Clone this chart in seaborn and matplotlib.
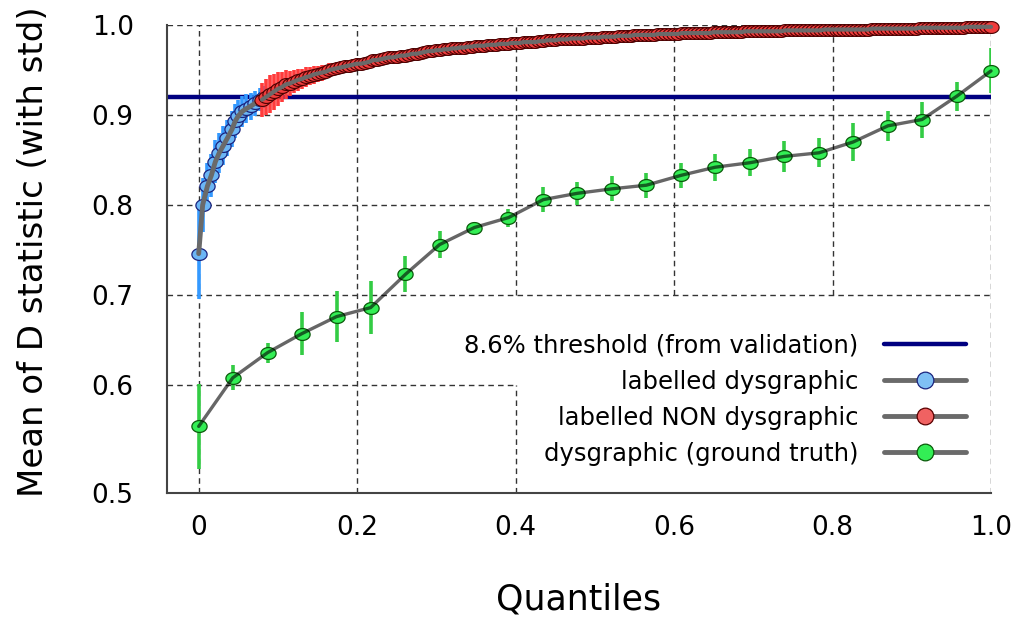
import numpy as np
import pandas as pd
import matplotlib
matplotlib.use("Agg")
import matplotlib.pyplot as plt
import seaborn as sns
from matplotlib.lines import Line2D
from matplotlib.path import Path

# ---------------- data ----------------
thr_value = 0.92
thr_label = "8.6% threshold (from validation)"

blue_label = "labelled dysgraphic"
blue_q = [0.000, 0.005, 0.011, 0.016, 0.021, 0.026, 0.031, 0.036, 0.042,
          0.046, 0.050, 0.055, 0.060, 0.066, 0.071, 0.077, 0.083]
blue_mean = [0.746, 0.800, 0.821, 0.833, 0.848, 0.858, 0.866, 0.874, 0.884,
             0.893, 0.899, 0.904, 0.907, 0.910, 0.913, 0.917, 0.920]
blue_std = [0.050, 0.030, 0.026, 0.024, 0.024, 0.022, 0.022, 0.020, 0.020,
            0.019, 0.018, 0.017, 0.016, 0.015, 0.014, 0.013, 0.012]

red_label = "labelled NON dysgraphic"
# quantile grid 0.080 .. 1.000, step 0.005
red_q = [round(0.08 + 0.005 * i, 3) for i in range(185)]
red_mean = [
    0.917, 0.920, 0.923, 0.926, 0.929, 0.931, 0.934, 0.935, 0.937, 0.939,
    0.940, 0.942, 0.943, 0.945, 0.946, 0.947, 0.948, 0.950, 0.951, 0.952,
    0.953, 0.954, 0.955, 0.956, 0.957, 0.957, 0.958, 0.959, 0.961, 0.961,
    0.962, 0.963, 0.964, 0.964, 0.965, 0.966, 0.966, 0.967, 0.968, 0.968,
    0.969, 0.970, 0.971, 0.971, 0.972, 0.972, 0.973, 0.973, 0.974, 0.974,
    0.975, 0.975, 0.976, 0.976, 0.977, 0.977, 0.977, 0.978, 0.978, 0.978,
    0.979, 0.979, 0.979, 0.980,
    0.980, 0.980, 0.981, 0.981, 0.981, 0.981, 0.982, 0.982, 0.983, 0.983,
    0.983, 0.984, 0.984, 0.984, 0.985, 0.985, 0.985, 0.985, 0.986, 0.986,
    0.986, 0.986, 0.987, 0.987, 0.987, 0.987, 0.988, 0.988, 0.988, 0.988,
    0.989, 0.989, 0.989, 0.989, 0.989, 0.989, 0.990, 0.990, 0.990, 0.990,
    0.990, 0.990, 0.991, 0.991, 0.991, 0.991, 0.991, 0.991, 0.991, 0.991,
    0.992, 0.992, 0.992, 0.992, 0.992, 0.992, 0.992, 0.992, 0.993, 0.993,
    0.993, 0.993, 0.993, 0.993, 0.993, 0.993, 0.993, 0.993, 0.994, 0.994,
    0.994, 0.994, 0.994, 0.994, 0.994, 0.994, 0.994, 0.994, 0.995, 0.995,
    0.995, 0.995, 0.995, 0.995, 0.995, 0.995, 0.995, 0.995, 0.995, 0.995,
    0.996, 0.996, 0.996, 0.996, 0.996, 0.996, 0.996, 0.996, 0.996, 0.996,
    0.996, 0.996, 0.997, 0.997, 0.997, 0.997, 0.997, 0.997, 0.997, 0.997,
    0.997, 0.997, 0.997, 0.997, 0.998, 0.998, 0.998, 0.998, 0.998, 0.998,
    0.998]
red_std = [
    0.019, 0.020, 0.021, 0.020, 0.019, 0.017, 0.016, 0.014, 0.013, 0.012,
    0.011, 0.011, 0.010, 0.010, 0.009, 0.009, 0.008, 0.008, 0.007, 0.007,
    0.007, 0.006, 0.006, 0.006, 0.006, 0.005, 0.005, 0.005, 0.005, 0.005,
    0.005, 0.005, 0.005, 0.004, 0.004, 0.004, 0.004, 0.004, 0.004, 0.004,
    0.004, 0.004, 0.004, 0.003, 0.003, 0.003, 0.003, 0.003, 0.003, 0.003,
    0.003, 0.003, 0.003, 0.003, 0.003, 0.003, 0.003, 0.003, 0.003, 0.003,
    0.003, 0.003, 0.003, 0.003,
    0.002, 0.002, 0.002, 0.002, 0.002, 0.002, 0.002, 0.002, 0.002, 0.002,
    0.002, 0.002, 0.002, 0.002, 0.002, 0.002, 0.002, 0.002, 0.002, 0.002,
    0.002, 0.002, 0.002, 0.002, 0.002, 0.002, 0.002, 0.002, 0.002, 0.002,
    0.002, 0.002, 0.002, 0.002, 0.002, 0.002, 0.002, 0.002, 0.002, 0.002,
    0.002, 0.002, 0.002, 0.002, 0.002, 0.002, 0.002, 0.002, 0.002, 0.002,
    0.002, 0.002, 0.002, 0.002, 0.002, 0.002, 0.002, 0.002, 0.002, 0.002,
    0.002, 0.002, 0.002, 0.002, 0.002, 0.002, 0.002, 0.002, 0.002, 0.002,
    0.002, 0.002, 0.002, 0.002, 0.002, 0.002, 0.002, 0.002, 0.002, 0.002,
    0.002, 0.002, 0.002, 0.002, 0.002, 0.002, 0.002, 0.002, 0.002, 0.002,
    0.002, 0.002, 0.002, 0.002, 0.002, 0.002, 0.002, 0.002, 0.002, 0.002,
    0.002, 0.002, 0.002, 0.002, 0.002, 0.002, 0.002, 0.002, 0.002, 0.002,
    0.002, 0.002, 0.002, 0.002, 0.002, 0.002, 0.002, 0.002, 0.002, 0.002,
    0.002]

green_label = "dysgraphic (ground truth)"
green_q = [0.000, 0.043, 0.087, 0.130, 0.174, 0.217, 0.261, 0.304,
           0.348, 0.391, 0.435, 0.478, 0.522, 0.565, 0.609, 0.652,
           0.696, 0.739, 0.783, 0.826, 0.870, 0.913, 0.957, 1.000]
green_mean = [0.554, 0.608, 0.636, 0.657, 0.676, 0.686, 0.723, 0.756,
              0.775, 0.786, 0.806, 0.813, 0.818, 0.822, 0.833, 0.842,
              0.847, 0.854, 0.858, 0.870, 0.888, 0.895, 0.921, 0.949]
green_std = [0.047, 0.014, 0.011, 0.024, 0.028, 0.029, 0.020, 0.015,
             0.003, 0.010, 0.014, 0.013, 0.014, 0.014, 0.014, 0.015,
             0.015, 0.017, 0.016, 0.021, 0.017, 0.020, 0.016, 0.025]

x_ticks = [0, 0.2, 0.4, 0.6, 0.8, 1.0]
x_tick_labels = ["0", "0.2", "0.4", "0.6", "0.8", "1.0"]
y_ticks = [0.48, 0.6, 0.7, 0.8, 0.9, 1.0]
y_tick_labels = ["0.5", "0.6", "0.7", "0.8", "0.9", "1.0"]
x_title = "Quantiles"
y_title = "Mean of D statistic (with std)"

# ---------------- style ----------------
sns.set_theme(style="white")
plt.rcParams["font.family"] = ["DejaVu Sans"]
plt.rcParams.update({"text.color": "black", "axes.labelcolor": "black",
                     "xtick.color": "black", "ytick.color": "black"})

XMIN, XMAX, YMIN, YMAX = -0.04, 1.0, 0.48, 1.0

fig = plt.figure(figsize=(10.14, 6.19), dpi=100)
ax = fig.add_axes([167 / 1014, 1 - 493 / 619, 824 / 1014, 468 / 619])
ax.set_xlim(XMIN, XMAX)
ax.set_ylim(YMIN, YMAX)

def xf(v):
    return (v - XMIN) / (XMAX - XMIN)

def yf(v):
    return (v - YMIN) / (YMAX - YMIN)

grid_kw = dict(color="#333333", lw=1.0, ls=(0, (4, 3)), zorder=0.5)
for yv in [0.7, 0.8, 0.9, 1.0]:
    ax.axhline(yv, **grid_kw)
ax.axhline(0.6, xmax=xf(0.4), **grid_kw)
for xv in [0.0, 0.2, 1.0]:
    ax.axvline(xv, **grid_kw)
ax.axvline(0.4, ymax=yf(0.6), **grid_kw)
for xv in [0.4, 0.6, 0.8]:
    ax.axvline(xv, ymin=yf(0.7), **grid_kw)

# threshold
ax.axhline(thr_value, color="#000080", lw=3.2, zorder=1)

t = np.linspace(0, 2 * np.pi, 64)
ellipse = Path(np.column_stack([np.cos(t), 0.78 * np.sin(t)]), closed=True)

series = [
    (blue_q, blue_mean, blue_std, "#3399ff", "#6cb6f5", "#1a237e", "#6a6a6a", 3.5, 1.0, 0.9),
    (red_q, red_mean, red_std, "#ff3b3b", "#f03c3c", "#4a0000", "#6a6a6a", 3.0, 1.0, 0.8),
    (green_q, green_mean, green_std, "#33cc44", "#33ee55", "#0a5a0a", "#000000", 2.4, 0.6, 0.9),
]
z = 2
for q, m, s, ecol, face, edge, lcol, lw, la, mew in series:
    ax.errorbar(q, m, yerr=s, fmt="none", ecolor=ecol, elinewidth=2.6,
                capsize=0, zorder=z)
    df = pd.DataFrame({"q": q, "m": m})
    sns.scatterplot(data=df, x="q", y="m", marker=ellipse, s=120,
                    color=face, edgecolor=edge, linewidth=mew, ax=ax,
                    zorder=z + 0.1, legend=False, clip_on=False)
    sns.lineplot(data=df, x="q", y="m", color=lcol, alpha=la, lw=lw,
                 estimator=None, sort=False, ax=ax, zorder=z + 0.2,
                 legend=False, clip_on=False)
    z += 1

for sp in ["top", "right"]:
    ax.spines[sp].set_visible(False)
for sp in ["left", "bottom"]:
    ax.spines[sp].set_color("#444444")
    ax.spines[sp].set_linewidth(1.5)
    ax.spines[sp].set_zorder(6)

ax.set_xticks(x_ticks)
ax.set_xticklabels(x_tick_labels)
ax.set_yticks(y_ticks)
ax.set_yticklabels(y_tick_labels)
ax.tick_params(axis="both", length=0, labelsize=19)
ax.tick_params(axis="y", pad=24)
ax.tick_params(axis="x", pad=16)
ax.set_xlabel(x_title, fontsize=25, labelpad=30)
ax.set_ylabel(y_title, fontsize=24.5)
ax.yaxis.set_label_coords(-0.142, 0.515)

handles = [
    Line2D([], [], color="#000080", lw=3.2),
    Line2D([], [], color="#6a6a6a", lw=3.5, marker="o", ms=12,
           mfc="#7fc0f5", mec="#1a237e", mew=0.9),
    Line2D([], [], color="#6a6a6a", lw=3.5, marker="o", ms=12,
           mfc="#f06262", mec="#5a0000", mew=0.9),
    Line2D([], [], color="#6a6a6a", lw=3.5, marker="o", ms=12,
           mfc="#33ee55", mec="#0a5a0a", mew=0.9),
]
labels = [thr_label, blue_label, red_label, green_label]
leg = ax.legend(handles, labels, loc="lower right", bbox_to_anchor=(0.970, 0.058),
                frameon=False, markerfirst=False, fontsize=17.5,
                handlelength=3.37, handletextpad=1.07, labelspacing=0.50,
                borderpad=0, borderaxespad=0)
leg.set_zorder(10)

fig.savefig("out.png", dpi=100)
